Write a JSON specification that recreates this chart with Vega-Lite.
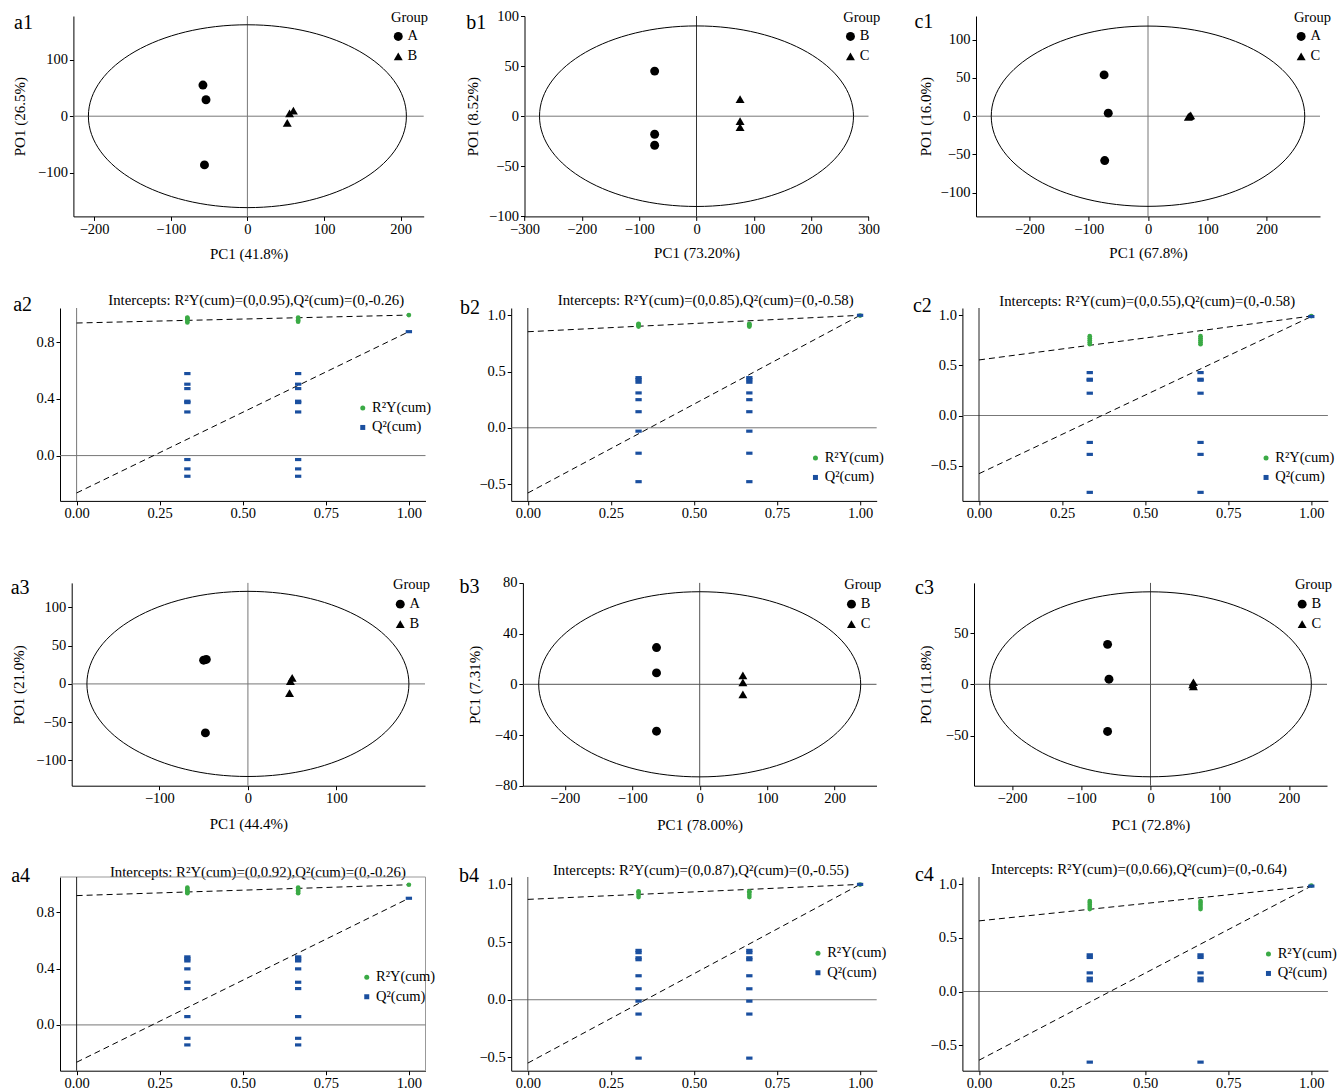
{
"$schema": "https://vega.github.io/schema/vega-lite/v6.json",
"background": "white",
"padding": {"left": 10, "top": 8, "right": 6, "bottom": 4},
"columns": 3,
"spacing": {"row": 91, "column": 85.2},
"bounds": "flush",
"align": "each",
"resolve": {"scale": {"x": "independent", "y": "independent", "color": "independent", "shape": "independent", "size": "independent"}, "legend": {"color": "independent", "shape": "independent", "size": "independent"}},
"config": {
  "font": "Liberation Serif",
  "view": {"stroke": null},
  "axis": {"grid": false, "domainColor": "#000", "tickColor": "#000", "labelColor": "#000", "titleColor": "#000", "labelFont": "Liberation Serif", "titleFont": "Liberation Serif", "labelFontSize": 14.5, "titleFontSize": 15, "titleFontWeight": "normal", "tickSize": 4, "labelPadding": 2, "labelFlush": false, "labelOverlap": false},
  "legend": {"labelFont": "Liberation Serif", "titleFont": "Liberation Serif", "labelFontSize": 14.5, "titleFontSize": 14.5, "titleFontWeight": "normal", "labelColor": "#000", "titleColor": "#000", "padding": 0},
  "title": {"font": "Liberation Serif", "fontWeight": "normal", "color": "#000", "fontSize": 20}
},
"concat": [
{"width": 365.5, "height": 200.4,
 "title": {"text": "a1", "anchor": "start", "frame": "group", "dx": -46, "dy": 22, "offset": 0},
 "layer": [
  {"data": {"values": [{}]}, "mark": {"type": "rule", "color": "#777777", "strokeWidth": 1}, "encoding": {"x": {"datum": -227}, "x2": {"datum": 230}, "y": {"datum": 0}}},
  {"data": {"values": [{}]}, "mark": {"type": "rule", "color": "#777777", "strokeWidth": 1}, "encoding": {"x": {"datum": 0}, "y": {"datum": -177}, "y2": {"datum": 177}}},
  {"data": {"values": [{}]}, "mark": {"type": "point", "shape": "M1,0C1,0.318,0.552,0.575,0,0.575C-0.552,0.575,-1,0.318,-1,0C-1,-0.318,-0.552,-0.575,0,-0.575C0.552,-0.575,1,-0.318,1,0Z", "size": 101124, "filled": false, "color": "#000", "strokeWidth": 1, "opacity": 1}, "encoding": {"x": {"datum": 0}, "y": {"datum": 0}}},
  {"data": {"values": [{"x": -58, "y": 55, "g": "A"}, {"x": -54, "y": 29, "g": "A"}, {"x": -56, "y": -86, "g": "A"}, {"x": 60, "y": 10, "g": "B"}, {"x": 55, "y": 5, "g": "B"}, {"x": 52, "y": -12, "g": "B"}]},
   "mark": {"type": "point", "filled": true, "color": "#000", "size": 80, "opacity": 1},
   "encoding": {
    "x": {"field": "x", "type": "quantitative", "scale": {"domain": [-227, 230], "range": [13.4, 363.7], "nice": false, "zero": false}, "axis": {"title": "PC1 (41.8%)", "values": [-200, -100, 0, 100, 200], "titleY": 42.5, "titleBaseline": "alphabetic"}},
    "y": {"field": "y", "type": "quantitative", "scale": {"domain": [-177, 177], "nice": false, "zero": false}, "axis": {"title": "PO1 (26.5%)", "values": [-100, 0, 100], "offset": -13.4, "titleX": -54.4, "titleBaseline": "middle"}},
    "shape": {"field": "g", "type": "nominal", "scale": {"domain": ["A", "B"], "range": ["circle", "triangle-up"]}, "legend": {"title": "Group", "orient": "none", "legendX": 331, "legendY": -5.3, "titlePadding": 4, "rowPadding": 4, "labelOffset": 2, "symbolSize": 80, "symbolFillColor": "#000", "symbolStrokeColor": "#000"}}}}
 ]},
{"width": 365.5, "height": 200.4,
 "title": {"text": "b1", "anchor": "start", "frame": "group", "dx": -45, "dy": 25, "offset": 0},
 "layer": [
  {"data": {"values": [{}]}, "mark": {"type": "rule", "color": "#777777", "strokeWidth": 1}, "encoding": {"x": {"datum": -300}, "x2": {"datum": 300}, "y": {"datum": 0}}},
  {"data": {"values": [{}]}, "mark": {"type": "rule", "color": "#333333", "strokeWidth": 1}, "encoding": {"x": {"datum": 0}, "y": {"datum": -100}, "y2": {"datum": 100}}},
  {"data": {"values": [{}]}, "mark": {"type": "point", "shape": "M1,0C1,0.318,0.552,0.575,0,0.575C-0.552,0.575,-1,0.318,-1,0C-1,-0.318,-0.552,-0.575,0,-0.575C0.552,-0.575,1,-0.318,1,0Z", "size": 98596, "filled": false, "color": "#000", "strokeWidth": 1, "opacity": 1}, "encoding": {"x": {"datum": 0}, "y": {"datum": 0}}},
  {"data": {"values": [{"x": -73, "y": 45, "g": "B"}, {"x": -73, "y": -18, "g": "B"}, {"x": -73, "y": -29, "g": "B"}, {"x": 76, "y": 17, "g": "C"}, {"x": 76, "y": -5, "g": "C"}, {"x": 76, "y": -11, "g": "C"}]},
   "mark": {"type": "point", "filled": true, "color": "#000", "size": 80, "opacity": 1},
   "encoding": {
    "x": {"field": "x", "type": "quantitative", "scale": {"domain": [-300, 300], "range": [13.3, 357.3], "nice": false, "zero": false}, "axis": {"title": "PC1 (73.20%)", "values": [-300, -200, -100, 0, 100, 200, 300], "titleY": 41.5, "titleBaseline": "alphabetic"}},
    "y": {"field": "y", "type": "quantitative", "scale": {"domain": [-100, 100], "nice": false, "zero": false}, "axis": {"title": "PO1 (8.52%)", "values": [-100, -50, 0, 50, 100], "offset": -13.3, "titleX": -51.6, "titleBaseline": "middle"}},
    "shape": {"field": "g", "type": "nominal", "scale": {"domain": ["B", "C"], "range": ["circle", "triangle-up"]}, "legend": {"title": "Group", "orient": "none", "legendX": 332, "legendY": -5.3, "titlePadding": 4, "rowPadding": 4, "labelOffset": 2, "symbolSize": 80, "symbolFillColor": "#000", "symbolStrokeColor": "#000"}}}}
 ]},
{"width": 365.5, "height": 200.4,
 "title": {"text": "c1", "anchor": "start", "frame": "group", "dx": -48, "dy": 21.5, "offset": 0},
 "layer": [
  {"data": {"values": [{}]}, "mark": {"type": "rule", "color": "#777777", "strokeWidth": 1}, "encoding": {"x": {"datum": -290}, "x2": {"datum": 290}, "y": {"datum": 0}}},
  {"data": {"values": [{}]}, "mark": {"type": "rule", "color": "#777777", "strokeWidth": 1}, "encoding": {"x": {"datum": 0}, "y": {"datum": -131}, "y2": {"datum": 131}}},
  {"data": {"values": [{}]}, "mark": {"type": "point", "shape": "M1,0C1,0.318,0.552,0.575,0,0.575C-0.552,0.575,-1,0.318,-1,0C-1,-0.318,-0.552,-0.575,0,-0.575C0.552,-0.575,1,-0.318,1,0Z", "size": 98282, "filled": false, "color": "#000", "strokeWidth": 1, "opacity": 1}, "encoding": {"x": {"datum": 0}, "y": {"datum": 0}}},
  {"data": {"values": [{"x": -74, "y": 54, "g": "A"}, {"x": -67, "y": 4, "g": "A"}, {"x": -73, "y": -58, "g": "A"}, {"x": 70, "y": 0, "g": "C"}, {"x": 72, "y": 1, "g": "C"}, {"x": 68, "y": -1, "g": "C"}]},
   "mark": {"type": "point", "filled": true, "color": "#000", "size": 80, "opacity": 1},
   "encoding": {
    "x": {"field": "x", "type": "quantitative", "scale": {"domain": [-290, 290], "range": [13.6, 357.6], "nice": false, "zero": false}, "axis": {"title": "PC1 (67.8%)", "values": [-200, -100, 0, 100, 200], "titleY": 41.5, "titleBaseline": "alphabetic"}},
    "y": {"field": "y", "type": "quantitative", "scale": {"domain": [-131, 131], "nice": false, "zero": false}, "axis": {"title": "PO1 (16.0%)", "values": [-100, -50, 0, 50, 100], "offset": -13.6, "titleX": -51, "titleBaseline": "middle"}},
    "shape": {"field": "g", "type": "nominal", "scale": {"domain": ["A", "C"], "range": ["circle", "triangle-up"]}, "legend": {"title": "Group", "orient": "none", "legendX": 331.5, "legendY": -5.3, "titlePadding": 4, "rowPadding": 4, "labelOffset": 2, "symbolSize": 80, "symbolFillColor": "#000", "symbolStrokeColor": "#000"}}}}
 ]},
{"width": 365.5, "height": 192.9,
 "layer": [
  {"data": {"values": [{}]}, "mark": {"type": "rule", "color": "#777777", "strokeWidth": 1}, "encoding": {"x": {"datum": -0.05}, "x2": {"datum": 1.05}, "y": {"datum": 0}}},
  {"data": {"values": [{}]}, "mark": {"type": "rule", "color": "#777777", "strokeWidth": 1}, "encoding": {"x": {"datum": 0}, "y": {"datum": -0.32}, "y2": {"datum": 1.042}}},
  {"data": {"values": [{"x": 0, "y": 0.936, "k": "R"}, {"x": 1, "y": 0.992, "k": "R"}, {"x": 0, "y": -0.264, "k": "Q"}, {"x": 1, "y": 0.875, "k": "Q"}]}, "mark": {"type": "line", "color": "#000", "strokeWidth": 1, "strokeDash": [6, 4]}, "encoding": {"x": {"field": "x", "type": "quantitative"}, "y": {"field": "y", "type": "quantitative"}, "detail": {"field": "k"}}},
  {"data": {"values": [
    {"x": 0.3333, "y": 0.94, "s": "R²Y(cum)"}, {"x": 0.3333, "y": 0.95, "s": "R²Y(cum)"}, {"x": 0.3333, "y": 0.96, "s": "R²Y(cum)"}, {"x": 0.3333, "y": 0.97, "s": "R²Y(cum)"}, {"x": 0.3333, "y": 0.975, "s": "R²Y(cum)"},
    {"x": 0.6667, "y": 0.945, "s": "R²Y(cum)"}, {"x": 0.6667, "y": 0.955, "s": "R²Y(cum)"}, {"x": 0.6667, "y": 0.965, "s": "R²Y(cum)"}, {"x": 0.6667, "y": 0.975, "s": "R²Y(cum)"}, {"x": 1, "y": 0.992, "s": "R²Y(cum)"},
    {"x": 0.3333, "y": 0.579, "s": "Q²(cum)"}, {"x": 0.3333, "y": 0.504, "s": "Q²(cum)"}, {"x": 0.3333, "y": 0.473, "s": "Q²(cum)"}, {"x": 0.3333, "y": 0.384, "s": "Q²(cum)"}, {"x": 0.3333, "y": 0.374, "s": "Q²(cum)"}, {"x": 0.3333, "y": 0.308, "s": "Q²(cum)"}, {"x": 0.3333, "y": -0.028, "s": "Q²(cum)"}, {"x": 0.3333, "y": -0.094, "s": "Q²(cum)"}, {"x": 0.3333, "y": -0.146, "s": "Q²(cum)"},
    {"x": 0.6667, "y": 0.579, "s": "Q²(cum)"}, {"x": 0.6667, "y": 0.504, "s": "Q²(cum)"}, {"x": 0.6667, "y": 0.473, "s": "Q²(cum)"}, {"x": 0.6667, "y": 0.384, "s": "Q²(cum)"}, {"x": 0.6667, "y": 0.374, "s": "Q²(cum)"}, {"x": 0.6667, "y": 0.308, "s": "Q²(cum)"}, {"x": 0.6667, "y": -0.028, "s": "Q²(cum)"}, {"x": 0.6667, "y": -0.094, "s": "Q²(cum)"}, {"x": 0.6667, "y": -0.146, "s": "Q²(cum)"},
    {"x": 1, "y": 0.875, "s": "Q²(cum)"}]},
   "resolve": {"scale": {"color": "independent", "shape": "independent", "size": "independent"}, "legend": {"color": "independent", "shape": "independent", "size": "independent"}},
   "layer": [
    {"mark": {"type": "point", "filled": true, "opacity": 1},
     "encoding": {
      "x": {"field": "x", "type": "quantitative", "scale": {"domain": [-0.05, 1.05], "nice": false, "zero": false}, "axis": {"values": [0, 0.25, 0.5, 0.75, 1], "format": ".2f", "title": "Intercepts: R²Y(cum)=(0,0.95),Q²(cum)=(0,-0.26)", "titleX": 195.7, "titleY": -196.4, "titleBaseline": "alphabetic", "titleFontSize": 14.8}},
      "y": {"field": "y", "type": "quantitative", "scale": {"domain": [-0.32, 1.042], "nice": false, "zero": false}, "axis": {"values": [0, 0.4, 0.8], "format": ".1f", "title": "a2", "titleAngle": 0, "titleX": -47.3, "titleY": 2.6, "titleAlign": "left", "titleBaseline": "alphabetic", "titleFontSize": 20}},
      "color": {"field": "s", "type": "nominal", "scale": {"domain": ["R²Y(cum)", "Q²(cum)"], "range": ["#3aaa45", "#1a4f9f"]}, "legend": null},
      "shape": {"field": "s", "type": "nominal", "scale": {"domain": ["R²Y(cum)", "Q²(cum)"], "range": ["circle", "M-1,-0.5H1V0.5H-1Z"]}, "legend": null},
      "size": {"field": "s", "type": "ordinal", "scale": {"domain": ["R²Y(cum)", "Q²(cum)"], "range": [22, 40]}, "legend": null}}},
    {"mark": {"type": "point", "filled": true, "opacity": 0},
     "encoding": {
      "x": {"field": "x", "type": "quantitative"},
      "y": {"field": "y", "type": "quantitative"},
      "color": {"field": "s", "type": "nominal", "scale": {"domain": ["R²Y(cum)", "Q²(cum)"], "range": ["#3aaa45", "#1a4f9f"]}, "legend": {"title": null, "orient": "none", "legendX": 295.5, "legendY": 92.7, "rowPadding": 4.5, "labelOffset": 2, "symbolSize": 25, "symbolOpacity": 1}},
      "shape": {"field": "s", "type": "nominal", "scale": {"domain": ["R²Y(cum)", "Q²(cum)"], "range": ["circle", "square"]}, "legend": {"title": null, "orient": "none", "legendX": 295.5, "legendY": 92.7, "rowPadding": 4.5, "labelOffset": 2, "symbolSize": 25, "symbolOpacity": 1}}}}
   ]}
 ]},
{"width": 365.5, "height": 192.9,
 "layer": [
  {"data": {"values": [{}]}, "mark": {"type": "rule", "color": "#777777", "strokeWidth": 1}, "encoding": {"x": {"datum": -0.05}, "x2": {"datum": 1.05}, "y": {"datum": 0}}},
  {"data": {"values": [{}]}, "mark": {"type": "rule", "color": "#222222", "strokeWidth": 1}, "encoding": {"x": {"datum": 0}, "y": {"datum": -0.65}, "y2": {"datum": 1.065}}},
  {"data": {"values": [{"x": 0, "y": 0.854, "k": "R"}, {"x": 1, "y": 1.0, "k": "R"}, {"x": 0, "y": -0.58, "k": "Q"}, {"x": 1, "y": 1.0, "k": "Q"}]}, "mark": {"type": "line", "color": "#000", "strokeWidth": 1, "strokeDash": [6, 4]}, "encoding": {"x": {"field": "x", "type": "quantitative"}, "y": {"field": "y", "type": "quantitative"}, "detail": {"field": "k"}}},
  {"data": {"values": [
    {"x": 0.3333, "y": 0.9, "s": "R²Y(cum)"}, {"x": 0.3333, "y": 0.91, "s": "R²Y(cum)"}, {"x": 0.3333, "y": 0.92, "s": "R²Y(cum)"}, {"x": 0.3333, "y": 0.925, "s": "R²Y(cum)"},
    {"x": 0.6667, "y": 0.9, "s": "R²Y(cum)"}, {"x": 0.6667, "y": 0.91, "s": "R²Y(cum)"}, {"x": 0.6667, "y": 0.92, "s": "R²Y(cum)"}, {"x": 0.6667, "y": 0.925, "s": "R²Y(cum)"}, {"x": 1, "y": 0.998, "s": "R²Y(cum)"},
    {"x": 0.3333, "y": 0.446, "s": "Q²(cum)"}, {"x": 0.3333, "y": 0.428, "s": "Q²(cum)"}, {"x": 0.3333, "y": 0.405, "s": "Q²(cum)"}, {"x": 0.3333, "y": 0.31, "s": "Q²(cum)"}, {"x": 0.3333, "y": 0.25, "s": "Q²(cum)"}, {"x": 0.3333, "y": 0.143, "s": "Q²(cum)"}, {"x": 0.3333, "y": -0.03, "s": "Q²(cum)"}, {"x": 0.3333, "y": -0.226, "s": "Q²(cum)"}, {"x": 0.3333, "y": -0.479, "s": "Q²(cum)"},
    {"x": 0.6667, "y": 0.446, "s": "Q²(cum)"}, {"x": 0.6667, "y": 0.428, "s": "Q²(cum)"}, {"x": 0.6667, "y": 0.405, "s": "Q²(cum)"}, {"x": 0.6667, "y": 0.31, "s": "Q²(cum)"}, {"x": 0.6667, "y": 0.25, "s": "Q²(cum)"}, {"x": 0.6667, "y": 0.143, "s": "Q²(cum)"}, {"x": 0.6667, "y": -0.03, "s": "Q²(cum)"}, {"x": 0.6667, "y": -0.226, "s": "Q²(cum)"}, {"x": 0.6667, "y": -0.479, "s": "Q²(cum)"},
    {"x": 1, "y": 1.0, "s": "Q²(cum)"}]},
   "resolve": {"scale": {"color": "independent", "shape": "independent", "size": "independent"}, "legend": {"color": "independent", "shape": "independent", "size": "independent"}},
   "layer": [
    {"mark": {"type": "point", "filled": true, "opacity": 1},
     "encoding": {
      "x": {"field": "x", "type": "quantitative", "scale": {"domain": [-0.05, 1.05], "nice": false, "zero": false}, "axis": {"values": [0, 0.25, 0.5, 0.75, 1], "format": ".2f", "title": "Intercepts: R²Y(cum)=(0,0.85),Q²(cum)=(0,-0.58)", "titleX": 194, "titleY": -196.3, "titleBaseline": "alphabetic", "titleFontSize": 14.8}},
      "y": {"field": "y", "type": "quantitative", "scale": {"domain": [-0.65, 1.065], "nice": false, "zero": false}, "axis": {"values": [-0.5, 0, 0.5, 1], "format": ".1f", "title": "b2", "titleAngle": 0, "titleX": -51.7, "titleY": 5, "titleAlign": "left", "titleBaseline": "alphabetic", "titleFontSize": 20}},
      "color": {"field": "s", "type": "nominal", "scale": {"domain": ["R²Y(cum)", "Q²(cum)"], "range": ["#3aaa45", "#1a4f9f"]}, "legend": null},
      "shape": {"field": "s", "type": "nominal", "scale": {"domain": ["R²Y(cum)", "Q²(cum)"], "range": ["circle", "M-1,-0.5H1V0.5H-1Z"]}, "legend": null},
      "size": {"field": "s", "type": "ordinal", "scale": {"domain": ["R²Y(cum)", "Q²(cum)"], "range": [22, 40]}, "legend": null}}},
    {"mark": {"type": "point", "filled": true, "opacity": 0},
     "encoding": {
      "x": {"field": "x", "type": "quantitative"},
      "y": {"field": "y", "type": "quantitative"},
      "color": {"field": "s", "type": "nominal", "scale": {"domain": ["R²Y(cum)", "Q²(cum)"], "range": ["#3aaa45", "#1a4f9f"]}, "legend": {"title": null, "orient": "none", "legendX": 297, "legendY": 142.7, "rowPadding": 4.5, "labelOffset": 2, "symbolSize": 25, "symbolOpacity": 1}},
      "shape": {"field": "s", "type": "nominal", "scale": {"domain": ["R²Y(cum)", "Q²(cum)"], "range": ["circle", "square"]}, "legend": {"title": null, "orient": "none", "legendX": 297, "legendY": 142.7, "rowPadding": 4.5, "labelOffset": 2, "symbolSize": 25, "symbolOpacity": 1}}}}
   ]}
 ]},
{"width": 365.5, "height": 192.9,
 "layer": [
  {"data": {"values": [{}]}, "mark": {"type": "rule", "color": "#777777", "strokeWidth": 1}, "encoding": {"x": {"datum": -0.05}, "x2": {"datum": 1.05}, "y": {"datum": 0}}},
  {"data": {"values": [{}]}, "mark": {"type": "rule", "color": "#222222", "strokeWidth": 1}, "encoding": {"x": {"datum": 0}, "y": {"datum": -0.85}, "y2": {"datum": 1.07}}},
  {"data": {"values": [{"x": 0, "y": 0.553, "k": "R"}, {"x": 1, "y": 0.99, "k": "R"}, {"x": 0, "y": -0.579, "k": "Q"}, {"x": 1, "y": 0.985, "k": "Q"}]}, "mark": {"type": "line", "color": "#000", "strokeWidth": 1, "strokeDash": [6, 4]}, "encoding": {"x": {"field": "x", "type": "quantitative"}, "y": {"field": "y", "type": "quantitative"}, "detail": {"field": "k"}}},
  {"data": {"values": [
    {"x": 0.3333, "y": 0.71, "s": "R²Y(cum)"}, {"x": 0.3333, "y": 0.73, "s": "R²Y(cum)"}, {"x": 0.3333, "y": 0.75, "s": "R²Y(cum)"}, {"x": 0.3333, "y": 0.77, "s": "R²Y(cum)"}, {"x": 0.3333, "y": 0.79, "s": "R²Y(cum)"},
    {"x": 0.6667, "y": 0.71, "s": "R²Y(cum)"}, {"x": 0.6667, "y": 0.73, "s": "R²Y(cum)"}, {"x": 0.6667, "y": 0.75, "s": "R²Y(cum)"}, {"x": 0.6667, "y": 0.77, "s": "R²Y(cum)"}, {"x": 0.6667, "y": 0.79, "s": "R²Y(cum)"}, {"x": 1, "y": 0.99, "s": "R²Y(cum)"},
    {"x": 0.3333, "y": 0.427, "s": "Q²(cum)"}, {"x": 0.3333, "y": 0.361, "s": "Q²(cum)"}, {"x": 0.3333, "y": 0.351, "s": "Q²(cum)"}, {"x": 0.3333, "y": 0.222, "s": "Q²(cum)"}, {"x": 0.3333, "y": -0.268, "s": "Q²(cum)"}, {"x": 0.3333, "y": -0.387, "s": "Q²(cum)"}, {"x": 0.3333, "y": -0.765, "s": "Q²(cum)"},
    {"x": 0.6667, "y": 0.427, "s": "Q²(cum)"}, {"x": 0.6667, "y": 0.361, "s": "Q²(cum)"}, {"x": 0.6667, "y": 0.351, "s": "Q²(cum)"}, {"x": 0.6667, "y": 0.222, "s": "Q²(cum)"}, {"x": 0.6667, "y": -0.268, "s": "Q²(cum)"}, {"x": 0.6667, "y": -0.387, "s": "Q²(cum)"}, {"x": 0.6667, "y": -0.765, "s": "Q²(cum)"},
    {"x": 1, "y": 0.985, "s": "Q²(cum)"}]},
   "resolve": {"scale": {"color": "independent", "shape": "independent", "size": "independent"}, "legend": {"color": "independent", "shape": "independent", "size": "independent"}},
   "layer": [
    {"mark": {"type": "point", "filled": true, "opacity": 1},
     "encoding": {
      "x": {"field": "x", "type": "quantitative", "scale": {"domain": [-0.05, 1.05], "nice": false, "zero": false}, "axis": {"values": [0, 0.25, 0.5, 0.75, 1], "format": ".2f", "title": "Intercepts: R²Y(cum)=(0,0.55),Q²(cum)=(0,-0.58)", "titleX": 184.3, "titleY": -195.3, "titleBaseline": "alphabetic", "titleFontSize": 14.8}},
      "y": {"field": "y", "type": "quantitative", "scale": {"domain": [-0.85, 1.07], "nice": false, "zero": false}, "axis": {"values": [-0.5, 0, 0.5, 1], "format": ".1f", "title": "c2", "titleAngle": 0, "titleX": -50, "titleY": 3.3, "titleAlign": "left", "titleBaseline": "alphabetic", "titleFontSize": 20}},
      "color": {"field": "s", "type": "nominal", "scale": {"domain": ["R²Y(cum)", "Q²(cum)"], "range": ["#3aaa45", "#1a4f9f"]}, "legend": null},
      "shape": {"field": "s", "type": "nominal", "scale": {"domain": ["R²Y(cum)", "Q²(cum)"], "range": ["circle", "M-1,-0.5H1V0.5H-1Z"]}, "legend": null},
      "size": {"field": "s", "type": "ordinal", "scale": {"domain": ["R²Y(cum)", "Q²(cum)"], "range": [22, 40]}, "legend": null}}},
    {"mark": {"type": "point", "filled": true, "opacity": 0},
     "encoding": {
      "x": {"field": "x", "type": "quantitative"},
      "y": {"field": "y", "type": "quantitative"},
      "color": {"field": "s", "type": "nominal", "scale": {"domain": ["R²Y(cum)", "Q²(cum)"], "range": ["#3aaa45", "#1a4f9f"]}, "legend": {"title": null, "orient": "none", "legendX": 296.4, "legendY": 142.7, "rowPadding": 4.5, "labelOffset": 2, "symbolSize": 25, "symbolOpacity": 1}},
      "shape": {"field": "s", "type": "nominal", "scale": {"domain": ["R²Y(cum)", "Q²(cum)"], "range": ["circle", "square"]}, "legend": {"title": null, "orient": "none", "legendX": 296.4, "legendY": 142.7, "rowPadding": 4.5, "labelOffset": 2, "symbolSize": 25, "symbolOpacity": 1}}}}
   ]}
 ]},
{"width": 365.5, "height": 193.7,
 "title": {"text": "a3", "anchor": "start", "frame": "group", "dx": -49.3, "dy": 20, "offset": 0},
 "layer": [
  {"data": {"values": [{}]}, "mark": {"type": "rule", "color": "#777777", "strokeWidth": 1}, "encoding": {"x": {"datum": -199}, "x2": {"datum": 200}, "y": {"datum": 0}}},
  {"data": {"values": [{}]}, "mark": {"type": "rule", "color": "#777777", "strokeWidth": 1}, "encoding": {"x": {"datum": 0}, "y": {"datum": -133}, "y2": {"datum": 132}}},
  {"data": {"values": [{}]}, "mark": {"type": "point", "shape": "M1,0C1,0.318,0.552,0.575,0,0.575C-0.552,0.575,-1,0.318,-1,0C-1,-0.318,-0.552,-0.575,0,-0.575C0.552,-0.575,1,-0.318,1,0Z", "size": 103684, "filled": false, "color": "#000", "strokeWidth": 1, "opacity": 1}, "encoding": {"x": {"datum": 0}, "y": {"datum": 0}}},
  {"data": {"values": [{"x": -47, "y": 32, "g": "A"}, {"x": -50, "y": 31, "g": "A"}, {"x": -48, "y": -64, "g": "A"}, {"x": 50, "y": 8, "g": "B"}, {"x": 48, "y": 3.5, "g": "B"}, {"x": 47, "y": -12, "g": "B"}]},
   "mark": {"type": "point", "filled": true, "color": "#000", "size": 80, "opacity": 1},
   "encoding": {
    "x": {"field": "x", "type": "quantitative", "scale": {"domain": [-199, 200], "range": [11.7, 365], "nice": false, "zero": false}, "axis": {"title": "PC1 (44.4%)", "values": [-100, 0, 100], "titleY": 43, "titleBaseline": "alphabetic"}},
    "y": {"field": "y", "type": "quantitative", "scale": {"domain": [-133, 132], "range": [193.7, -9.1], "nice": false, "zero": false}, "axis": {"title": "PO1 (21.0%)", "values": [-100, -50, 0, 50, 100], "offset": -11.7, "titleX": -52.7, "titleBaseline": "middle"}},
    "shape": {"field": "g", "type": "nominal", "scale": {"domain": ["A", "B"], "range": ["circle", "triangle-up"]}, "legend": {"title": "Group", "orient": "none", "legendX": 333, "legendY": -13.6, "titlePadding": 4, "rowPadding": 4, "labelOffset": 2, "symbolSize": 80, "symbolFillColor": "#000", "symbolStrokeColor": "#000"}}}}
 ]},
{"width": 365.5, "height": 193.7,
 "title": {"text": "b3", "anchor": "start", "frame": "group", "dx": -51.7, "dy": 22, "offset": 0},
 "layer": [
  {"data": {"values": [{}]}, "mark": {"type": "rule", "color": "#555555", "strokeWidth": 1}, "encoding": {"x": {"datum": -262}, "x2": {"datum": 262}, "y": {"datum": 0}}},
  {"data": {"values": [{}]}, "mark": {"type": "rule", "color": "#555555", "strokeWidth": 1}, "encoding": {"x": {"datum": 0}, "y": {"datum": -80}, "y2": {"datum": 80}}},
  {"data": {"values": [{}]}, "mark": {"type": "point", "shape": "M1,0C1,0.318,0.552,0.575,0,0.575C-0.552,0.575,-1,0.318,-1,0C-1,-0.318,-0.552,-0.575,0,-0.575C0.552,-0.575,1,-0.318,1,0Z", "size": 103684, "filled": false, "color": "#000", "strokeWidth": 1, "opacity": 1}, "encoding": {"x": {"datum": 0}, "y": {"datum": 0}}},
  {"data": {"values": [{"x": -64, "y": 29, "g": "B"}, {"x": -64, "y": 9, "g": "B"}, {"x": -64, "y": -37, "g": "B"}, {"x": 64, "y": 7, "g": "C"}, {"x": 64, "y": 1.6, "g": "C"}, {"x": 64, "y": -8, "g": "C"}]},
   "mark": {"type": "point", "filled": true, "color": "#000", "size": 80, "opacity": 1},
   "encoding": {
    "x": {"field": "x", "type": "quantitative", "scale": {"domain": [-262, 262], "range": [11.7, 365.3], "nice": false, "zero": false}, "axis": {"title": "PC1 (78.00%)", "values": [-200, -100, 0, 100, 200], "titleY": 44, "titleBaseline": "alphabetic"}},
    "y": {"field": "y", "type": "quantitative", "scale": {"domain": [-80, 80], "range": [193.7, -9.1], "nice": false, "zero": false}, "axis": {"title": "PC1 (7.31%)", "values": [-80, -40, 0, 40, 80], "offset": -11.7, "titleX": -48.4, "titleBaseline": "middle"}},
    "shape": {"field": "g", "type": "nominal", "scale": {"domain": ["B", "C"], "range": ["circle", "triangle-up"]}, "legend": {"title": "Group", "orient": "none", "legendX": 333, "legendY": -13.6, "titlePadding": 4, "rowPadding": 4, "labelOffset": 2, "symbolSize": 80, "symbolFillColor": "#000", "symbolStrokeColor": "#000"}}}}
 ]},
{"width": 365.5, "height": 193.7,
 "title": {"text": "c3", "anchor": "start", "frame": "group", "dx": -47.4, "dy": 20, "offset": 0},
 "layer": [
  {"data": {"values": [{}]}, "mark": {"type": "rule", "color": "#555555", "strokeWidth": 1}, "encoding": {"x": {"datum": -255}, "x2": {"datum": 255}, "y": {"datum": 0}}},
  {"data": {"values": [{}]}, "mark": {"type": "rule", "color": "#555555", "strokeWidth": 1}, "encoding": {"x": {"datum": 0}, "y": {"datum": -99}, "y2": {"datum": 99}}},
  {"data": {"values": [{}]}, "mark": {"type": "point", "shape": "M1,0C1,0.318,0.552,0.575,0,0.575C-0.552,0.575,-1,0.318,-1,0C-1,-0.318,-0.552,-0.575,0,-0.575C0.552,-0.575,1,-0.318,1,0Z", "size": 103491, "filled": false, "color": "#000", "strokeWidth": 1, "opacity": 1}, "encoding": {"x": {"datum": 0}, "y": {"datum": 0}}},
  {"data": {"values": [{"x": -62, "y": 39, "g": "B"}, {"x": -60, "y": 5, "g": "B"}, {"x": -62, "y": -46, "g": "B"}, {"x": 62, "y": 2, "g": "C"}, {"x": 62, "y": -2, "g": "C"}, {"x": 61, "y": 0, "g": "C"}]},
   "mark": {"type": "point", "filled": true, "color": "#000", "size": 80, "opacity": 1},
   "encoding": {
    "x": {"field": "x", "type": "quantitative", "scale": {"domain": [-255, 255], "range": [11.6, 364.6], "nice": false, "zero": false}, "axis": {"title": "PC1 (72.8%)", "values": [-200, -100, 0, 100, 200], "titleY": 44, "titleBaseline": "alphabetic"}},
    "y": {"field": "y", "type": "quantitative", "scale": {"domain": [-99, 99], "range": [193.7, -9.1], "nice": false, "zero": false}, "axis": {"title": "PO1 (11.8%)", "values": [-50, 0, 50], "offset": -11.6, "titleX": -49, "titleBaseline": "middle"}},
    "shape": {"field": "g", "type": "nominal", "scale": {"domain": ["B", "C"], "range": ["circle", "triangle-up"]}, "legend": {"title": "Group", "orient": "none", "legendX": 332.5, "legendY": -13.6, "titlePadding": 4, "rowPadding": 4, "labelOffset": 2, "symbolSize": 80, "symbolFillColor": "#000", "symbolStrokeColor": "#000"}}}}
 ]},
{"width": 365.5, "height": 193.7,
 "layer": [
  {"data": {"values": [{}]}, "mark": {"type": "rule", "color": "#999999", "strokeWidth": 1}, "encoding": {"x": {"datum": -0.05}, "x2": {"datum": 1.05}, "y": {"datum": 1.05}}},
  {"data": {"values": [{}]}, "mark": {"type": "rule", "color": "#999999", "strokeWidth": 1}, "encoding": {"x": {"datum": 1.05}, "y": {"datum": -0.325}, "y2": {"datum": 1.05}}},
  {"data": {"values": [{}]}, "mark": {"type": "rule", "color": "#777777", "strokeWidth": 1}, "encoding": {"x": {"datum": -0.05}, "x2": {"datum": 1.05}, "y": {"datum": 0}}},
  {"data": {"values": [{}]}, "mark": {"type": "rule", "color": "#222222", "strokeWidth": 1}, "encoding": {"x": {"datum": 0}, "y": {"datum": -0.325}, "y2": {"datum": 1.05}}},
  {"data": {"values": [{"x": 0, "y": 0.918, "k": "R"}, {"x": 1, "y": 0.995, "k": "R"}, {"x": 0, "y": -0.265, "k": "Q"}, {"x": 1, "y": 0.899, "k": "Q"}]}, "mark": {"type": "line", "color": "#000", "strokeWidth": 1, "strokeDash": [6, 4]}, "encoding": {"x": {"field": "x", "type": "quantitative"}, "y": {"field": "y", "type": "quantitative"}, "detail": {"field": "k"}}},
  {"data": {"values": [
    {"x": 0.3333, "y": 0.935, "s": "R²Y(cum)"}, {"x": 0.3333, "y": 0.945, "s": "R²Y(cum)"}, {"x": 0.3333, "y": 0.955, "s": "R²Y(cum)"}, {"x": 0.3333, "y": 0.965, "s": "R²Y(cum)"}, {"x": 0.3333, "y": 0.975, "s": "R²Y(cum)"},
    {"x": 0.6667, "y": 0.935, "s": "R²Y(cum)"}, {"x": 0.6667, "y": 0.945, "s": "R²Y(cum)"}, {"x": 0.6667, "y": 0.955, "s": "R²Y(cum)"}, {"x": 0.6667, "y": 0.965, "s": "R²Y(cum)"}, {"x": 0.6667, "y": 0.975, "s": "R²Y(cum)"}, {"x": 1, "y": 0.995, "s": "R²Y(cum)"},
    {"x": 0.3333, "y": 0.483, "s": "Q²(cum)"}, {"x": 0.3333, "y": 0.469, "s": "Q²(cum)"}, {"x": 0.3333, "y": 0.454, "s": "Q²(cum)"}, {"x": 0.3333, "y": 0.398, "s": "Q²(cum)"}, {"x": 0.3333, "y": 0.303, "s": "Q²(cum)"}, {"x": 0.3333, "y": 0.258, "s": "Q²(cum)"}, {"x": 0.3333, "y": 0.059, "s": "Q²(cum)"}, {"x": 0.3333, "y": -0.095, "s": "Q²(cum)"}, {"x": 0.3333, "y": -0.142, "s": "Q²(cum)"},
    {"x": 0.6667, "y": 0.483, "s": "Q²(cum)"}, {"x": 0.6667, "y": 0.469, "s": "Q²(cum)"}, {"x": 0.6667, "y": 0.454, "s": "Q²(cum)"}, {"x": 0.6667, "y": 0.398, "s": "Q²(cum)"}, {"x": 0.6667, "y": 0.303, "s": "Q²(cum)"}, {"x": 0.6667, "y": 0.258, "s": "Q²(cum)"}, {"x": 0.6667, "y": 0.059, "s": "Q²(cum)"}, {"x": 0.6667, "y": -0.095, "s": "Q²(cum)"}, {"x": 0.6667, "y": -0.142, "s": "Q²(cum)"},
    {"x": 1, "y": 0.899, "s": "Q²(cum)"}]},
   "resolve": {"scale": {"color": "independent", "shape": "independent", "size": "independent"}, "legend": {"color": "independent", "shape": "independent", "size": "independent"}},
   "layer": [
    {"mark": {"type": "point", "filled": true, "opacity": 1},
     "encoding": {
      "x": {"field": "x", "type": "quantitative", "scale": {"domain": [-0.05, 1.05], "nice": false, "zero": false}, "axis": {"values": [0, 0.25, 0.5, 0.75, 1], "format": ".2f", "title": "Intercepts: R²Y(cum)=(0,0.92),Q²(cum)=(0,-0.26)", "titleX": 197.4, "titleY": -194, "titleBaseline": "alphabetic", "titleFontSize": 14.8}},
      "y": {"field": "y", "type": "quantitative", "scale": {"domain": [-0.325, 1.05], "nice": false, "zero": false}, "axis": {"values": [0, 0.4, 0.8], "format": ".1f", "title": "a4", "titleAngle": 0, "titleX": -49.3, "titleY": 4.7, "titleAlign": "left", "titleBaseline": "alphabetic", "titleFontSize": 20}},
      "color": {"field": "s", "type": "nominal", "scale": {"domain": ["R²Y(cum)", "Q²(cum)"], "range": ["#3aaa45", "#1a4f9f"]}, "legend": null},
      "shape": {"field": "s", "type": "nominal", "scale": {"domain": ["R²Y(cum)", "Q²(cum)"], "range": ["circle", "M-1,-0.5H1V0.5H-1Z"]}, "legend": null},
      "size": {"field": "s", "type": "ordinal", "scale": {"domain": ["R²Y(cum)", "Q²(cum)"], "range": [22, 40]}, "legend": null}}},
    {"mark": {"type": "point", "filled": true, "opacity": 0},
     "encoding": {
      "x": {"field": "x", "type": "quantitative"},
      "y": {"field": "y", "type": "quantitative"},
      "color": {"field": "s", "type": "nominal", "scale": {"domain": ["R²Y(cum)", "Q²(cum)"], "range": ["#3aaa45", "#1a4f9f"]}, "legend": {"title": null, "orient": "none", "legendX": 299.5, "legendY": 93, "rowPadding": 4.5, "labelOffset": 2, "symbolSize": 25, "symbolOpacity": 1}},
      "shape": {"field": "s", "type": "nominal", "scale": {"domain": ["R²Y(cum)", "Q²(cum)"], "range": ["circle", "square"]}, "legend": {"title": null, "orient": "none", "legendX": 299.5, "legendY": 93, "rowPadding": 4.5, "labelOffset": 2, "symbolSize": 25, "symbolOpacity": 1}}}}
   ]}
 ]},
{"width": 365.5, "height": 193.7,
 "layer": [
  {"data": {"values": [{}]}, "mark": {"type": "rule", "color": "#777777", "strokeWidth": 1}, "encoding": {"x": {"datum": -0.05}, "x2": {"datum": 1.05}, "y": {"datum": 0}}},
  {"data": {"values": [{}]}, "mark": {"type": "rule", "color": "#555555", "strokeWidth": 1}, "encoding": {"x": {"datum": 0}, "y": {"datum": -0.615}, "y2": {"datum": 1.064}}},
  {"data": {"values": [{"x": 0, "y": 0.87, "k": "R"}, {"x": 1, "y": 1.0, "k": "R"}, {"x": 0, "y": -0.549, "k": "Q"}, {"x": 1, "y": 1.0, "k": "Q"}]}, "mark": {"type": "line", "color": "#000", "strokeWidth": 1, "strokeDash": [6, 4]}, "encoding": {"x": {"field": "x", "type": "quantitative"}, "y": {"field": "y", "type": "quantitative"}, "detail": {"field": "k"}}},
  {"data": {"values": [
    {"x": 0.3333, "y": 0.89, "s": "R²Y(cum)"}, {"x": 0.3333, "y": 0.91, "s": "R²Y(cum)"}, {"x": 0.3333, "y": 0.93, "s": "R²Y(cum)"}, {"x": 0.3333, "y": 0.94, "s": "R²Y(cum)"},
    {"x": 0.6667, "y": 0.89, "s": "R²Y(cum)"}, {"x": 0.6667, "y": 0.91, "s": "R²Y(cum)"}, {"x": 0.6667, "y": 0.93, "s": "R²Y(cum)"}, {"x": 0.6667, "y": 0.94, "s": "R²Y(cum)"}, {"x": 1, "y": 0.998, "s": "R²Y(cum)"},
    {"x": 0.3333, "y": 0.428, "s": "Q²(cum)"}, {"x": 0.3333, "y": 0.408, "s": "Q²(cum)"}, {"x": 0.3333, "y": 0.364, "s": "Q²(cum)"}, {"x": 0.3333, "y": 0.347, "s": "Q²(cum)"}, {"x": 0.3333, "y": 0.208, "s": "Q²(cum)"}, {"x": 0.3333, "y": 0.095, "s": "Q²(cum)"}, {"x": 0.3333, "y": -0.012, "s": "Q²(cum)"}, {"x": 0.3333, "y": -0.124, "s": "Q²(cum)"}, {"x": 0.3333, "y": -0.506, "s": "Q²(cum)"},
    {"x": 0.6667, "y": 0.428, "s": "Q²(cum)"}, {"x": 0.6667, "y": 0.408, "s": "Q²(cum)"}, {"x": 0.6667, "y": 0.364, "s": "Q²(cum)"}, {"x": 0.6667, "y": 0.347, "s": "Q²(cum)"}, {"x": 0.6667, "y": 0.208, "s": "Q²(cum)"}, {"x": 0.6667, "y": 0.095, "s": "Q²(cum)"}, {"x": 0.6667, "y": -0.012, "s": "Q²(cum)"}, {"x": 0.6667, "y": -0.124, "s": "Q²(cum)"}, {"x": 0.6667, "y": -0.506, "s": "Q²(cum)"},
    {"x": 1, "y": 1.0, "s": "Q²(cum)"}]},
   "resolve": {"scale": {"color": "independent", "shape": "independent", "size": "independent"}, "legend": {"color": "independent", "shape": "independent", "size": "independent"}},
   "layer": [
    {"mark": {"type": "point", "filled": true, "opacity": 1},
     "encoding": {
      "x": {"field": "x", "type": "quantitative", "scale": {"domain": [-0.05, 1.05], "nice": false, "zero": false}, "axis": {"values": [0, 0.25, 0.5, 0.75, 1], "format": ".2f", "title": "Intercepts: R²Y(cum)=(0,0.87),Q²(cum)=(0,-0.55)", "titleX": 189.2, "titleY": -195.7, "titleBaseline": "alphabetic", "titleFontSize": 14.8}},
      "y": {"field": "y", "type": "quantitative", "scale": {"domain": [-0.615, 1.064], "nice": false, "zero": false}, "axis": {"values": [-0.5, 0, 0.5, 1], "format": ".1f", "title": "b4", "titleAngle": 0, "titleX": -52.7, "titleY": 4, "titleAlign": "left", "titleBaseline": "alphabetic", "titleFontSize": 20}},
      "color": {"field": "s", "type": "nominal", "scale": {"domain": ["R²Y(cum)", "Q²(cum)"], "range": ["#3aaa45", "#1a4f9f"]}, "legend": null},
      "shape": {"field": "s", "type": "nominal", "scale": {"domain": ["R²Y(cum)", "Q²(cum)"], "range": ["circle", "M-1,-0.5H1V0.5H-1Z"]}, "legend": null},
      "size": {"field": "s", "type": "ordinal", "scale": {"domain": ["R²Y(cum)", "Q²(cum)"], "range": [22, 40]}, "legend": null}}},
    {"mark": {"type": "point", "filled": true, "opacity": 0},
     "encoding": {
      "x": {"field": "x", "type": "quantitative"},
      "y": {"field": "y", "type": "quantitative"},
      "color": {"field": "s", "type": "nominal", "scale": {"domain": ["R²Y(cum)", "Q²(cum)"], "range": ["#3aaa45", "#1a4f9f"]}, "legend": {"title": null, "orient": "none", "legendX": 299.5, "legendY": 69, "rowPadding": 4.5, "labelOffset": 2, "symbolSize": 25, "symbolOpacity": 1}},
      "shape": {"field": "s", "type": "nominal", "scale": {"domain": ["R²Y(cum)", "Q²(cum)"], "range": ["circle", "square"]}, "legend": {"title": null, "orient": "none", "legendX": 299.5, "legendY": 69, "rowPadding": 4.5, "labelOffset": 2, "symbolSize": 25, "symbolOpacity": 1}}}}
   ]}
 ]},
{"width": 365.5, "height": 193.7,
 "layer": [
  {"data": {"values": [{}]}, "mark": {"type": "rule", "color": "#777777", "strokeWidth": 1}, "encoding": {"x": {"datum": -0.05}, "x2": {"datum": 1.05}, "y": {"datum": 0}}},
  {"data": {"values": [{}]}, "mark": {"type": "rule", "color": "#222222", "strokeWidth": 1}, "encoding": {"x": {"datum": 0}, "y": {"datum": -0.74}, "y2": {"datum": 1.07}}},
  {"data": {"values": [{"x": 0, "y": 0.66, "k": "R"}, {"x": 1, "y": 0.985, "k": "R"}, {"x": 0, "y": -0.642, "k": "Q"}, {"x": 1, "y": 0.985, "k": "Q"}]}, "mark": {"type": "line", "color": "#000", "strokeWidth": 1, "strokeDash": [6, 4]}, "encoding": {"x": {"field": "x", "type": "quantitative"}, "y": {"field": "y", "type": "quantitative"}, "detail": {"field": "k"}}},
  {"data": {"values": [
    {"x": 0.3333, "y": 0.77, "s": "R²Y(cum)"}, {"x": 0.3333, "y": 0.79, "s": "R²Y(cum)"}, {"x": 0.3333, "y": 0.81, "s": "R²Y(cum)"}, {"x": 0.3333, "y": 0.83, "s": "R²Y(cum)"}, {"x": 0.3333, "y": 0.845, "s": "R²Y(cum)"},
    {"x": 0.6667, "y": 0.77, "s": "R²Y(cum)"}, {"x": 0.6667, "y": 0.79, "s": "R²Y(cum)"}, {"x": 0.6667, "y": 0.81, "s": "R²Y(cum)"}, {"x": 0.6667, "y": 0.83, "s": "R²Y(cum)"}, {"x": 0.6667, "y": 0.845, "s": "R²Y(cum)"}, {"x": 1, "y": 0.99, "s": "R²Y(cum)"},
    {"x": 0.3333, "y": 0.343, "s": "Q²(cum)"}, {"x": 0.3333, "y": 0.318, "s": "Q²(cum)"}, {"x": 0.3333, "y": 0.174, "s": "Q²(cum)"}, {"x": 0.3333, "y": 0.125, "s": "Q²(cum)"}, {"x": 0.3333, "y": 0.1, "s": "Q²(cum)"}, {"x": 0.3333, "y": -0.66, "s": "Q²(cum)"},
    {"x": 0.6667, "y": 0.343, "s": "Q²(cum)"}, {"x": 0.6667, "y": 0.318, "s": "Q²(cum)"}, {"x": 0.6667, "y": 0.174, "s": "Q²(cum)"}, {"x": 0.6667, "y": 0.125, "s": "Q²(cum)"}, {"x": 0.6667, "y": 0.1, "s": "Q²(cum)"}, {"x": 0.6667, "y": -0.66, "s": "Q²(cum)"},
    {"x": 1, "y": 0.985, "s": "Q²(cum)"}]},
   "resolve": {"scale": {"color": "independent", "shape": "independent", "size": "independent"}, "legend": {"color": "independent", "shape": "independent", "size": "independent"}},
   "layer": [
    {"mark": {"type": "point", "filled": true, "opacity": 1},
     "encoding": {
      "x": {"field": "x", "type": "quantitative", "scale": {"domain": [-0.05, 1.05], "nice": false, "zero": false}, "axis": {"values": [0, 0.25, 0.5, 0.75, 1], "format": ".2f", "title": "Intercepts: R²Y(cum)=(0,0.66),Q²(cum)=(0,-0.64)", "titleX": 176.1, "titleY": -197.3, "titleBaseline": "alphabetic", "titleFontSize": 14.8}},
      "y": {"field": "y", "type": "quantitative", "scale": {"domain": [-0.74, 1.07], "nice": false, "zero": false}, "axis": {"values": [-0.5, 0, 0.5, 1], "format": ".1f", "title": "c4", "titleAngle": 0, "titleX": -48, "titleY": 3, "titleAlign": "left", "titleBaseline": "alphabetic", "titleFontSize": 20}},
      "color": {"field": "s", "type": "nominal", "scale": {"domain": ["R²Y(cum)", "Q²(cum)"], "range": ["#3aaa45", "#1a4f9f"]}, "legend": null},
      "shape": {"field": "s", "type": "nominal", "scale": {"domain": ["R²Y(cum)", "Q²(cum)"], "range": ["circle", "M-1,-0.5H1V0.5H-1Z"]}, "legend": null},
      "size": {"field": "s", "type": "ordinal", "scale": {"domain": ["R²Y(cum)", "Q²(cum)"], "range": [22, 40]}, "legend": null}}},
    {"mark": {"type": "point", "filled": true, "opacity": 0},
     "encoding": {
      "x": {"field": "x", "type": "quantitative"},
      "y": {"field": "y", "type": "quantitative"},
      "color": {"field": "s", "type": "nominal", "scale": {"domain": ["R²Y(cum)", "Q²(cum)"], "range": ["#3aaa45", "#1a4f9f"]}, "legend": {"title": null, "orient": "none", "legendX": 298.8, "legendY": 69.7, "rowPadding": 4.5, "labelOffset": 2, "symbolSize": 25, "symbolOpacity": 1}},
      "shape": {"field": "s", "type": "nominal", "scale": {"domain": ["R²Y(cum)", "Q²(cum)"], "range": ["circle", "square"]}, "legend": {"title": null, "orient": "none", "legendX": 298.8, "legendY": 69.7, "rowPadding": 4.5, "labelOffset": 2, "symbolSize": 25, "symbolOpacity": 1}}}}
   ]}
 ]}
]
}
